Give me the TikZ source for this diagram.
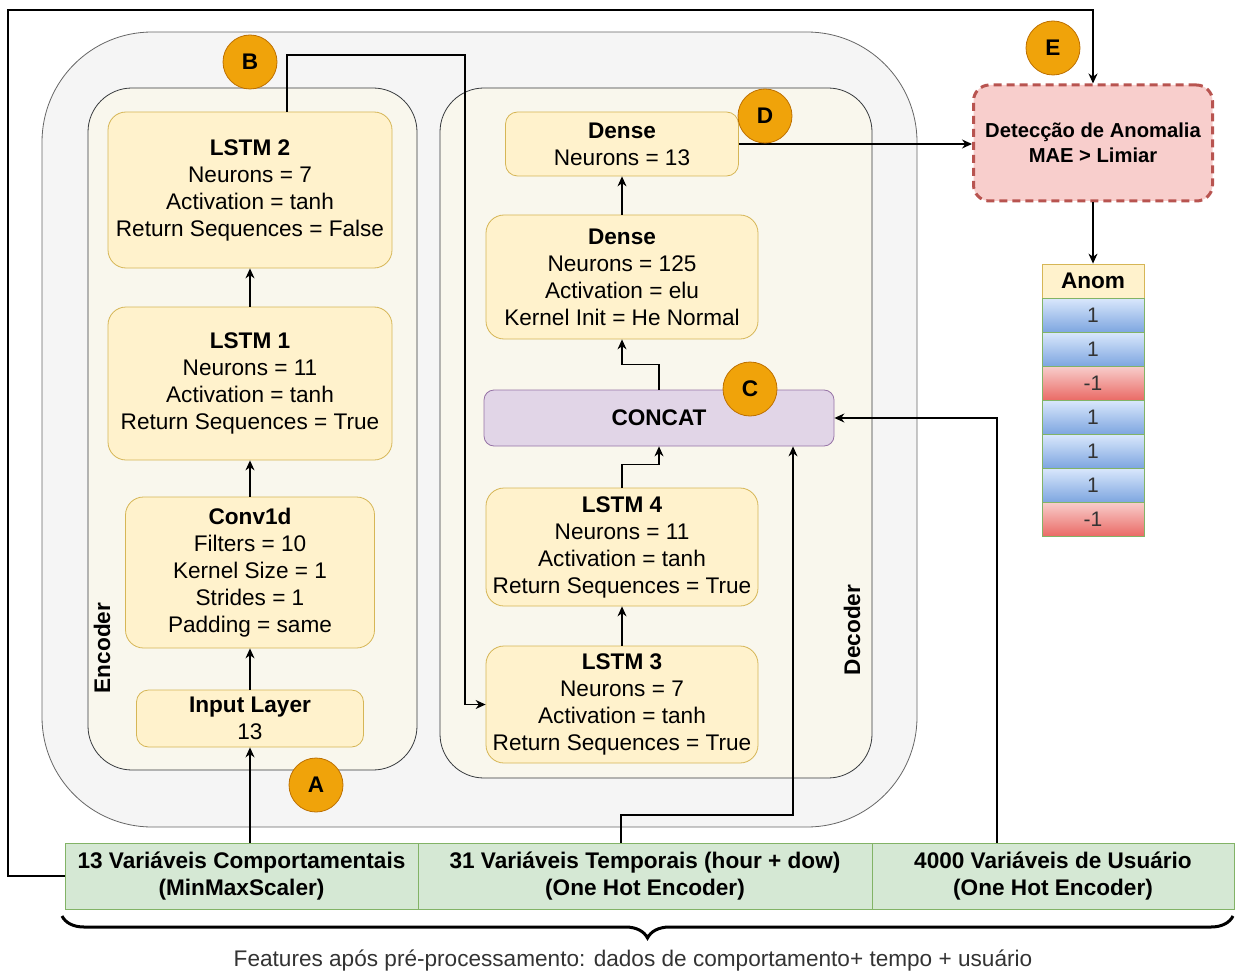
\documentclass[tikz,border=0pt]{standalone}
\usepackage{fontspec}
\setmainfont{Liberation Sans}
\usetikzlibrary{arrows.meta,decorations.pathreplacing}

\definecolor{frameFill}{HTML}{F5F5F5}
\definecolor{frameLine}{HTML}{666666}
\definecolor{panelFill}{HTML}{F9F7ED}
\definecolor{panelLine}{HTML}{36393D}
\definecolor{layerFill}{HTML}{FFF2CC}
\definecolor{layerLine}{HTML}{D6B656}
\definecolor{concatFill}{HTML}{E1D5E7}
\definecolor{concatLine}{HTML}{9673A6}
\definecolor{featFill}{HTML}{D5E8D4}
\definecolor{featLine}{HTML}{82B366}
\definecolor{detFill}{HTML}{F8CECC}
\definecolor{detLine}{HTML}{B85450}
\definecolor{markFill}{HTML}{F0A30A}
\definecolor{markLine}{HTML}{BD7000}
\definecolor{posTop}{HTML}{DAE8FC}
\definecolor{posBot}{HTML}{7EA6E0}
\definecolor{negTop}{HTML}{F8CECC}
\definecolor{negBot}{HTML}{EA6B66}
\definecolor{softText}{HTML}{333333}

\newcommand{\bodyfont}{\fontsize{11.3pt}{13.5pt}\selectfont}

\begin{document}
\begin{tikzpicture}[x=0.5pt,y=-0.5pt]
    \tikzstyle{outer}=[draw=frameLine, fill=frameFill, rounded corners=55pt, inner sep=0pt]
    \tikzstyle{panel}=[draw=panelLine, fill=panelFill, rounded corners=22pt, inner sep=0pt]
    \tikzstyle{layer}=[draw=layerLine, fill=layerFill, rounded corners=9pt, inner sep=0pt,
                       align=center, font=\bodyfont]
    \tikzstyle{concatbox}=[draw=concatLine, fill=concatFill, rounded corners=5pt, inner sep=0pt,
                           font=\bodyfont\bfseries]
    \tikzstyle{feature}=[draw=featLine, fill=featFill, inner sep=0pt, minimum height=33pt,
                         align=center, font=\bodyfont\bfseries]
    \tikzstyle{detect}=[draw=detLine, fill=detFill, line width=1.5pt, dash pattern=on 4pt off 2.5pt,
                        rounded corners=8pt, inner sep=0pt, align=center,
                        font=\fontsize{10.1pt}{12.5pt}\selectfont\bfseries]
    \tikzstyle{marker}=[circle, draw=markLine, fill=markFill, minimum size=27pt, inner sep=0pt,
                        font=\bodyfont\bfseries]
    \tikzstyle{anomHead}=[draw=layerLine, fill=layerFill, minimum width=51pt, minimum height=17pt,
                          inner sep=0pt, font=\bodyfont\bfseries]
    \tikzstyle{anomPos}=[draw=featLine, top color=posTop, bottom color=posBot, minimum width=51pt,
                         minimum height=17pt, inner sep=0pt, text=softText,
                         font=\fontsize{10.5pt}{12pt}\selectfont]
    \tikzstyle{anomNeg}=[anomPos, top color=negTop, bottom color=negBot]
    \tikzstyle{link}=[line width=0.6pt, -{Stealth[length=5pt,width=4.5pt]}]

    \useasboundingbox (0,0) rectangle (1235,973);

    % containers
    \node[outer, minimum width=437.5pt, minimum height=397.5pt] (frame) at (479.5,429.5) {};
    \node[panel, minimum width=164.5pt, minimum height=341pt] (enc) at (252.5,429) {};
    \node[panel, minimum width=216pt, minimum height=345pt] (dec) at (656,433) {};
    \node[rotate=90, font=\bodyfont\bfseries] (encLabel) at (102,648) {Encoder};
    \node[rotate=90, font=\bodyfont\bfseries] (decLabel) at (852,630) {Decoder};

    % encoder
    \node[layer, minimum width=142pt, minimum height=78pt] (lstm2) at (250,190)
        {\textbf{LSTM 2}\\Neurons = 7\\Activation = tanh\\Return Sequences = False};
    \node[layer, minimum width=142pt, minimum height=76.5pt] (lstm1) at (250,383.5)
        {\textbf{LSTM 1}\\Neurons = 11\\Activation = tanh\\Return Sequences = True};
    \node[layer, minimum width=124.5pt, minimum height=75.5pt] (conv) at (250,572.5)
        {\textbf{Conv1d}\\Filters = 10\\Kernel Size = 1\\Strides = 1\\Padding = same};
    \node[layer, minimum width=113.5pt, minimum height=28.5pt, rounded corners=6pt] (input) at (250,718.5)
        {\textbf{Input Layer}\\13};

    % decoder
    \node[layer, minimum width=116.5pt, minimum height=32pt, rounded corners=6pt] (dense1) at (622,144)
        {\textbf{Dense}\\Neurons = 13};
    \node[layer, minimum width=136pt, minimum height=62pt] (dense2) at (622,277)
        {\textbf{Dense}\\Neurons = 125\\Activation = elu\\Kernel Init = He Normal};
    \node[concatbox, minimum width=175pt, minimum height=28pt] (concat) at (659,418) {CONCAT};
    \node[layer, minimum width=136pt, minimum height=59pt] (lstm4) at (622,547)
        {\textbf{LSTM 4}\\Neurons = 11\\Activation = tanh\\Return Sequences = True};
    \node[layer, minimum width=136pt, minimum height=58.5pt] (lstm3) at (622,704.5)
        {\textbf{LSTM 3}\\Neurons = 7\\Activation = tanh\\Return Sequences = True};

    % detection and output
    \node[detect, minimum width=119.5pt, minimum height=58pt] (det) at (1093,143)
        {Detecção de Anomalia\\MAE > Limiar};
    \node[anomHead] (anom) at (1093,281) {Anom};
    \foreach \val/\kind [count=\i] in {1/anomPos,1/anomPos,-1/anomNeg,1/anomPos,1/anomPos,1/anomPos,-1/anomNeg}
        \node[\kind] (row\i) at (1093,{281+34*\i}) {\val};

    % input features
    \node[feature, minimum width=176.5pt] (cell1) at (241.5,876)
        {13 Variáveis Comportamentais\\(MinMaxScaler)};
    \node[feature, minimum width=227pt] (cell2) at (645,876)
        {31 Variáveis Temporais (hour + dow)\\(One Hot Encoder)};
    \node[feature, minimum width=181pt] (cell3) at (1053,876)
        {4000 Variáveis de Usuário\\(One Hot Encoder)};

    % routing points
    \coordinate (bTurn) at (465,55);
    \coordinate (tRoute) at (793,815);
    \coordinate (fbCorner) at (8,10);
    \coordinate (braceL) at (62,916);
    \coordinate (braceR) at (1233,916);

    % connectors
    \draw[link] (input.south |- cell1.north) -- (input.south);
    \draw[link] (input) -- (conv);
    \draw[link] (conv) -- (lstm1);
    \draw[link] (lstm1) -- (lstm2);
    \draw[link] ([xshift=18.5pt]lstm2.north) |- (bTurn) |- (lstm3.west);
    \draw[link] (lstm3) -- (lstm4);
    \draw[link] (lstm4.north) -- ++(0,-23) -| (concat.south);
    \draw[link] (concat.north) -- ++(0,-25) -| (dense2.south);
    \draw[link] (dense2) -- (dense1);
    \draw[link] (dense1.east) -- (dense1.east -| det.west);
    \draw[link] ([xshift=-12pt]cell2.north) |- (tRoute) -- (tRoute |- concat.south);
    \draw[link] ([xshift=-28pt]cell3.north) |- (concat.east);
    \draw[link] (cell1.west) -| (fbCorner) -| (det.north);
    \draw[link] (det) -- (anom);

    % markers
    \node[marker] (mA) at (316,785) {A};
    \node[marker] (mB) at (250,62) {B};
    \node[marker] (mC) at (750,389) {C};
    \node[marker] (mD) at (765,116) {D};
    \node[marker] (mE) at (1053,48) {E};

    % brace and caption
    \draw[line width=1.5pt, decorate, decoration={brace, mirror, amplitude=11pt}] (braceL) -- (braceR);
    \node[font=\bodyfont, text=softText] (caption) at (633,961)
        {Features após pré-processamento: dados de comportamento+ tempo + usuário};

\end{tikzpicture}
\end{document}
